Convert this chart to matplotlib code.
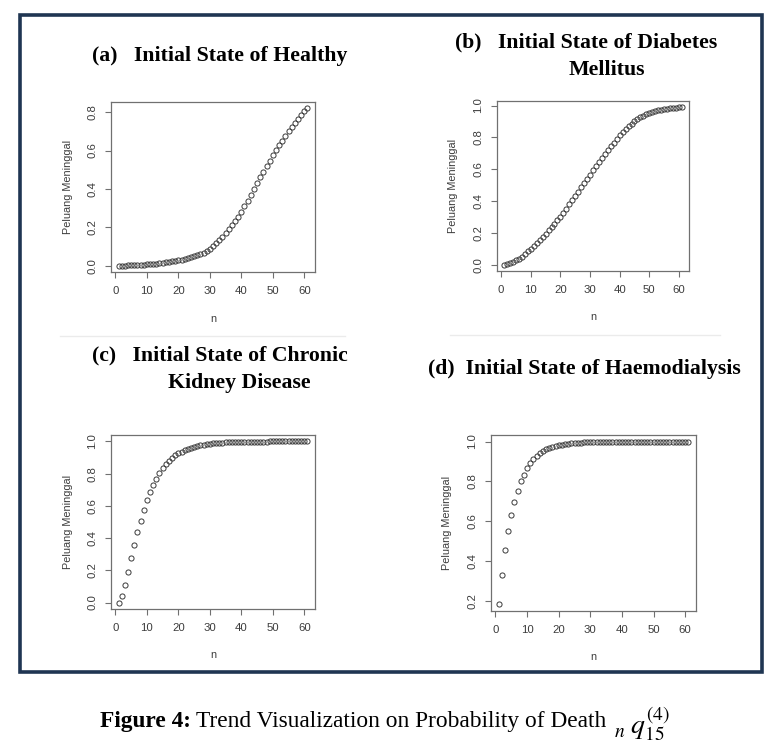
import numpy as np
import matplotlib.pyplot as plt
from matplotlib.patches import Rectangle
from matplotlib.lines import Line2D

plt.rcParams['mathtext.fontset'] = 'stix'
plt.rcParams['font.family'] = ['Liberation Sans', 'DejaVu Sans']

# n = 1..61 for every panel
n = np.arange(1, 62)

# (a) Initial State of Healthy
healthy = [0.000, 0.001, 0.001, 0.002, 0.002, 0.003, 0.004, 0.005, 0.006, 0.007,
           0.008, 0.010, 0.011, 0.013, 0.015, 0.017, 0.019, 0.022, 0.025, 0.028,
           0.031, 0.035, 0.039, 0.043, 0.048, 0.054, 0.060, 0.068, 0.076, 0.088,
           0.102, 0.117, 0.133, 0.151, 0.170, 0.190, 0.211, 0.233, 0.256, 0.280,
           0.309, 0.338, 0.368, 0.399, 0.430, 0.460, 0.490, 0.519, 0.547, 0.575,
           0.601, 0.627, 0.652, 0.676, 0.700, 0.722, 0.744, 0.765, 0.785, 0.805,
           0.820]

# (b) Initial State of Diabetes Mellitus
diabetes = [0.000, 0.004, 0.010, 0.018, 0.027, 0.038, 0.051, 0.066, 0.083, 0.100,
            0.117, 0.135, 0.154, 0.174, 0.194, 0.215, 0.236, 0.257, 0.279, 0.301,
            0.327, 0.353, 0.379, 0.406, 0.433, 0.459, 0.486, 0.512, 0.539, 0.565,
            0.592, 0.618, 0.644, 0.670, 0.695, 0.719, 0.743, 0.767, 0.790, 0.812,
            0.832, 0.851, 0.869, 0.885, 0.900, 0.913, 0.925, 0.935, 0.944, 0.952,
            0.958, 0.964, 0.969, 0.973, 0.977, 0.980, 0.983, 0.985, 0.987, 0.988,
            0.989]

# (c) Initial State of Chronic Kidney Disease
ckd = [0.000, 0.042, 0.111, 0.190, 0.279, 0.358, 0.438, 0.508, 0.577, 0.634,
       0.685, 0.730, 0.770, 0.805, 0.835, 0.860, 0.880, 0.898, 0.913, 0.926,
       0.937, 0.947, 0.955, 0.962, 0.968, 0.973, 0.977, 0.981, 0.984, 0.987,
       0.989, 0.991, 0.992, 0.993, 0.994, 0.995, 0.996, 0.997, 0.997, 0.998,
       0.998, 0.998, 0.999, 0.999, 0.999, 0.999, 0.999, 0.999, 1.000, 1.000,
       1.000, 1.000, 1.000, 1.000, 1.000, 1.000, 1.000, 1.000, 1.000, 1.000,
       1.000]

# (d) Initial State of Haemodialysis
haemo = [0.182, 0.330, 0.454, 0.551, 0.632, 0.697, 0.753, 0.800, 0.833, 0.865,
         0.890, 0.911, 0.926, 0.940, 0.951, 0.960, 0.967, 0.973, 0.978, 0.982,
         0.985, 0.988, 0.990, 0.992, 0.993, 0.994, 0.995, 0.996, 0.997, 0.997,
         0.998, 0.998, 0.998, 0.999, 0.999, 0.999, 0.999, 0.999, 0.999, 1.000,
         1.000, 1.000, 1.000, 1.000, 1.000, 1.000, 1.000, 1.000, 1.000, 1.000,
         1.000, 1.000, 1.000, 1.000, 1.000, 1.000, 1.000, 1.000, 1.000, 1.000,
         1.000]

x_ticks = [0, 10, 20, 30, 40, 50, 60]
y_ticks_a = [0.0, 0.2, 0.4, 0.6, 0.8]
y_ticks_b = [0.0, 0.2, 0.4, 0.6, 0.8, 1.0]
y_ticks_d = [0.2, 0.4, 0.6, 0.8, 1.0]

W, H = 776, 746
fig = plt.figure(figsize=(W / 100, H / 100), dpi=100)
fig.patch.set_facecolor('white')


def px_axes(x0, y0, x1, y1):
    # pixel box (top-left origin) -> figure axes
    return fig.add_axes([x0 / W, 1 - y1 / H, (x1 - x0) / W, (y1 - y0) / H])


def r_plot(ax, y, yticks, ylab_x, xlab_y):
    ax.plot(n, y, 'o', ms=3.7, mfc='none', mec='#3a3a3a', mew=0.7)
    # R style 4% padding around the data range
    ymin, ymax = min(y), max(y)
    pad = 0.04 * (ymax - ymin)
    ax.set_xlim(1 - 2.4, 61 + 2.4)
    ax.set_ylim(ymin - pad, ymax + pad)
    ax.set_xticks(x_ticks)
    ax.set_yticks(yticks)
    ax.set_yticklabels([f'{t:.1f}' for t in yticks])
    for s in ax.spines.values():
        s.set_color('#707070')
        s.set_linewidth(0.9)
    ax.tick_params(length=4, width=0.8, color='#707070', labelsize=8.2,
                   labelcolor='#3c3c3c')
    ax.tick_params(axis='x', pad=6)
    ax.tick_params(axis='y', pad=6, labelrotation=90)
    for lbl in ax.get_yticklabels():
        lbl.set_va('center')
    ax.set_xlabel('n', fontsize=7.8, color='#3c3c3c')
    ax.set_ylabel('Peluang Meninggal', fontsize=7.8, color='#3c3c3c')
    ax.xaxis.set_label_coords(0.5, xlab_y)
    ax.yaxis.set_label_coords(ylab_x, 0.5)
    ax.xaxis.label.set_va('center')
    ax.yaxis.label.set_va('center')


ax_a = px_axes(111, 102, 315, 272)
r_plot(ax_a, healthy, y_ticks_a, (68 - 111) / 204, (272 - 319) / 170)
ax_b = px_axes(497, 101, 689, 271)
r_plot(ax_b, diabetes, y_ticks_b, (453 - 497) / 192, (271 - 317) / 170)
ax_c = px_axes(111, 435, 315, 609)
r_plot(ax_c, ckd, y_ticks_b, (68 - 111) / 204, (609 - 655) / 174)
ax_d = px_axes(491, 435, 696, 611)
r_plot(ax_d, haemo, y_ticks_d, (447 - 491) / 205, (611 - 657) / 176)

# panel headings
title_kw = dict(family='Liberation Serif', weight='bold', fontsize=15.7,
                color='black', va='center')
fig.text(92 / W, 1 - 56 / H, '(a)   Initial State of Healthy', ha='left', **title_kw)
fig.text(455 / W, 1 - 42 / H, '(b)   Initial State of Diabetes', ha='left', **title_kw)
fig.text(607 / W, 1 - 70 / H, 'Mellitus', ha='center', **title_kw)
fig.text(92 / W, 1 - 355 / H, '(c)   Initial State of Chronic', ha='left', **title_kw)
fig.text(239 / W, 1 - 383 / H, 'Kidney Disease', ha='center', **title_kw)
fig.text(428 / W, 1 - 369 / H, '(d)  Initial State of Haemodialysis', ha='left', **title_kw)

# faint separators between the rows
for x0, x1, yy in [(60, 345, 336), (450, 720, 335)]:
    fig.add_artist(Line2D([x0 / W, x1 / W], [1 - yy / H, 1 - yy / H],
                          color='#ebebeb', lw=1))

# dark frame around the panels
fig.add_artist(Rectangle((20 / W, 1 - 672 / H), (762 - 20) / W, (672 - 15) / H,
                         fill=False, ec='#1f3552', lw=2.6))

# caption, built from pieces placed one after another
cap_y = 1 - 721 / H
renderer = fig.canvas.get_renderer()
t1 = fig.text(100 / W, cap_y, 'Figure 4:', family='Liberation Serif',
              weight='bold', fontsize=16.8, ha='left', va='center')
x_next = t1.get_window_extent(renderer).x1 / W + 5 / W
t2 = fig.text(x_next, cap_y, 'Trend Visualization on Probability of Death',
              family='Liberation Serif', fontsize=16.8, ha='left', va='center')
x_next = t2.get_window_extent(renderer).x1 / W + 8 / W
fig.text(x_next, cap_y - 3 / H, r'${}_{n}\;q_{15}^{(4)}$', fontsize=20,
         ha='left', va='center')

fig.savefig('out.png', dpi=100)
